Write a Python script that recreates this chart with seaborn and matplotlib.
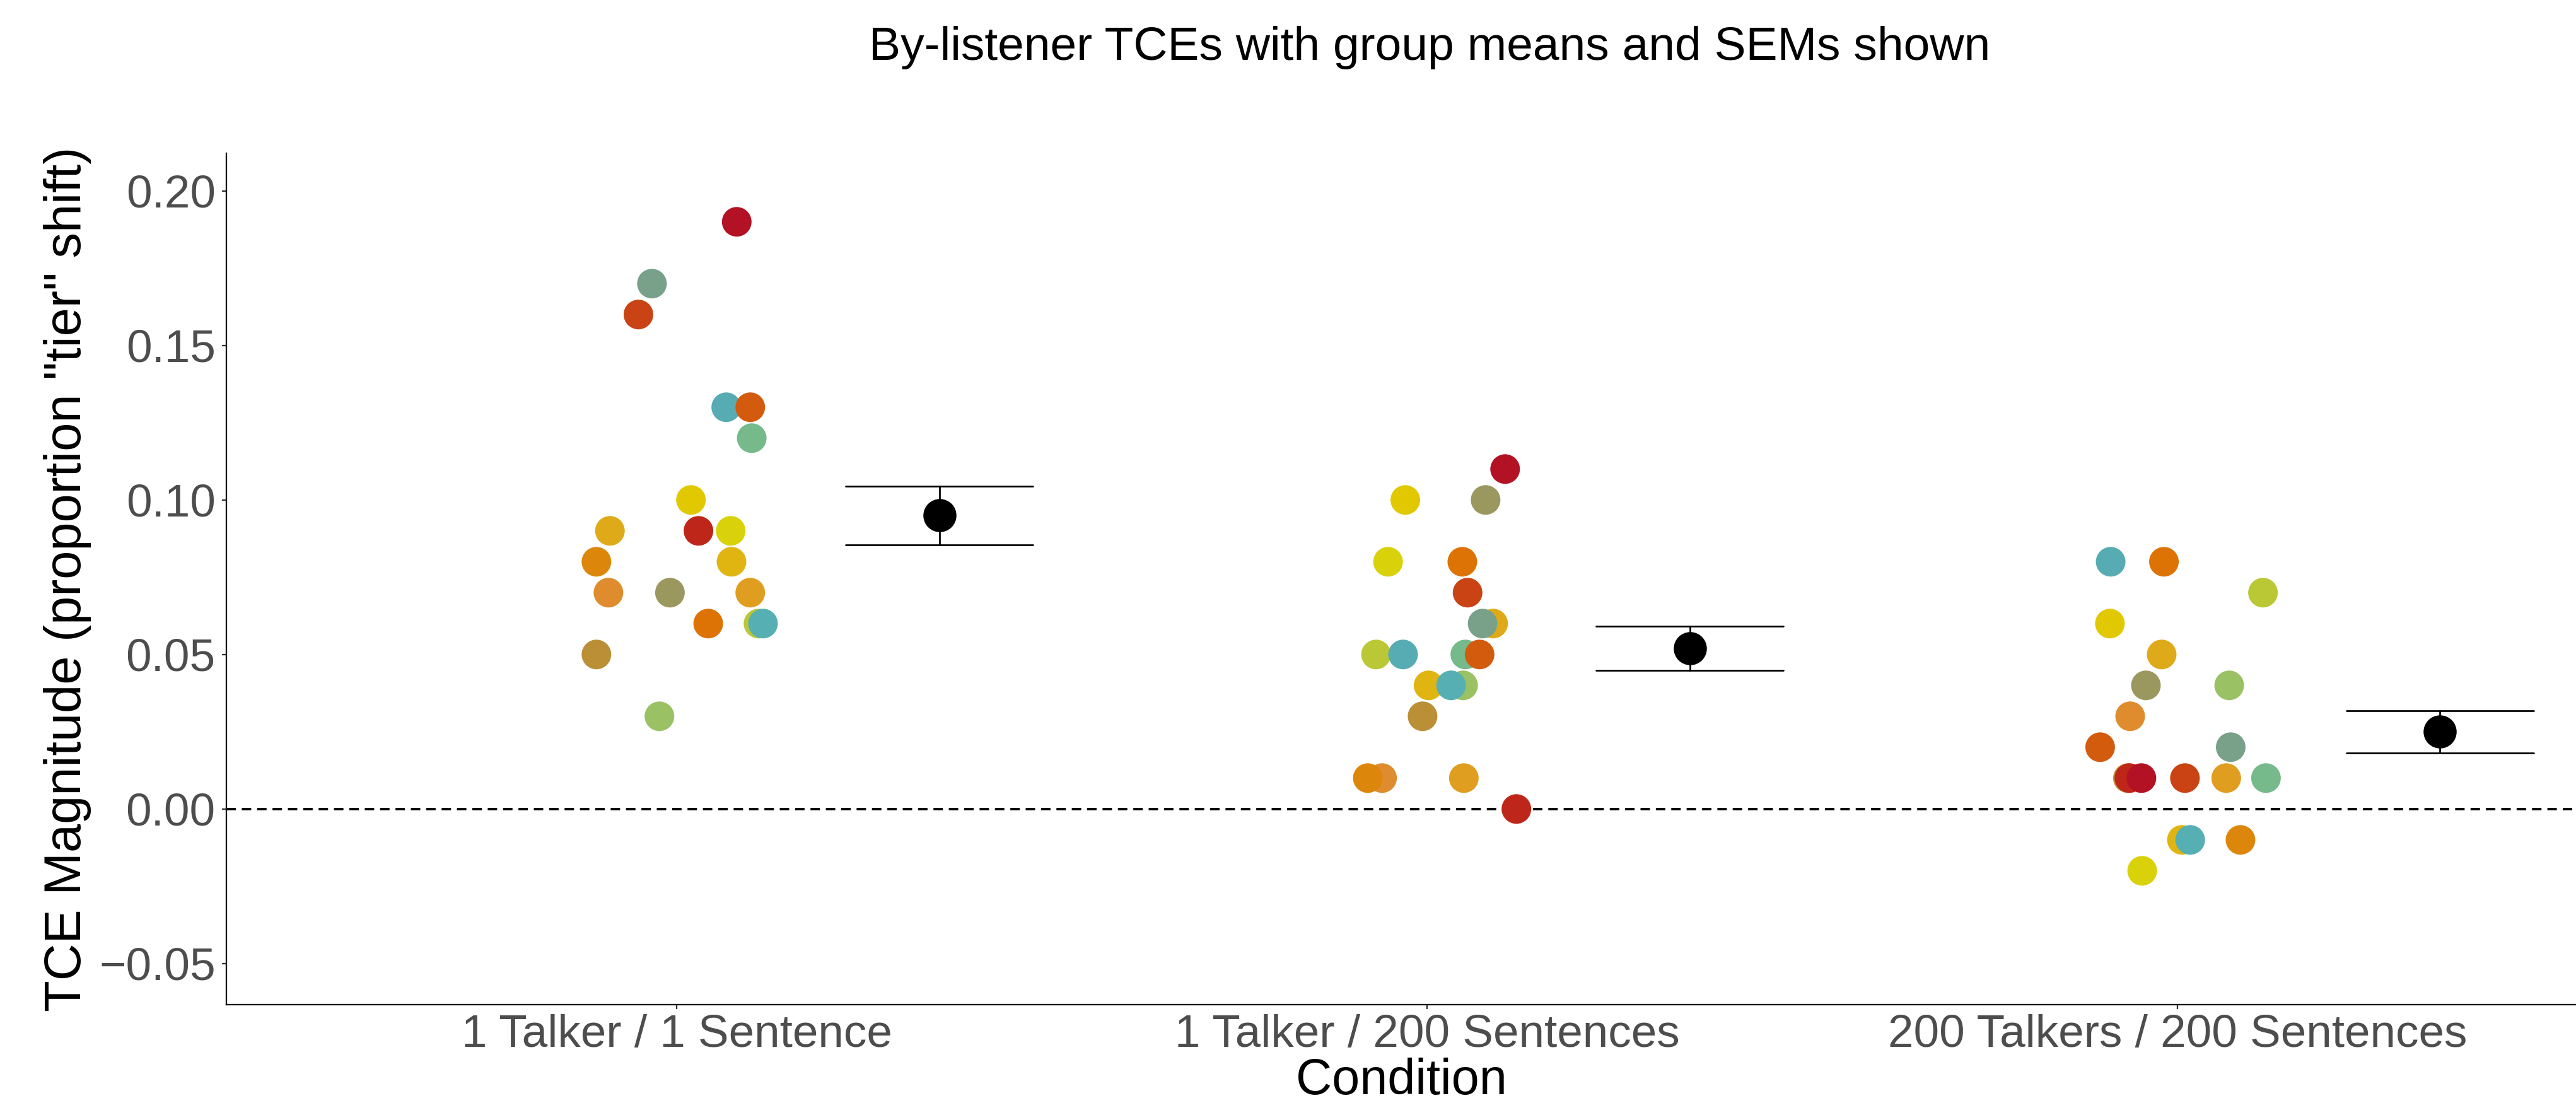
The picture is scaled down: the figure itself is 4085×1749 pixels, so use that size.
import pandas as pd
import seaborn as sns
import matplotlib.pyplot as plt

conditions = ['1 Talker / 1 Sentence', '1 Talker / 200 Sentences', '200 Talkers / 200 Sentences']

listeners = [f'L{i:02d}' for i in range(1, 21)]
listener_colors = ['#76B98A', '#BBC835', '#9AC163', '#E1B511', '#DFAA19',
                   '#BB8F36', '#DE8C2E', '#57ACB3', '#56AFB3', '#79A18A',
                   '#9A985E', '#E1C800', '#D9D10A', '#E09E20', '#DC870C',
                   '#DD7304', '#D35B0E', '#C94314', '#BE2619', '#B31124']

# TCE per listener, same listener order in every condition
tce_1t1s = [0.12, 0.06, 0.03, 0.08, 0.09, 0.05, 0.07, 0.13, 0.06, 0.17,
            0.07, 0.10, 0.09, 0.07, 0.08, 0.06, 0.13, 0.16, 0.09, 0.19]
tce_1t200s = [0.05, 0.05, 0.04, 0.04, 0.06, 0.03, 0.01, 0.05, 0.04, 0.06,
              0.10, 0.10, 0.08, 0.01, 0.01, 0.08, 0.05, 0.07, 0.00, 0.11]
tce_200t200s = [0.01, 0.07, 0.04, -0.01, 0.05, 0.01, 0.03, 0.08, -0.01, 0.02,
                0.04, 0.06, -0.02, 0.01, -0.01, 0.08, 0.02, 0.01, 0.01, 0.01]

# horizontal jitter
jit_1t1s = [0.100, 0.109, -0.023, 0.073, -0.089, -0.107, -0.091, 0.066, 0.115, -0.033,
            -0.009, 0.019, 0.072, 0.098, -0.107, 0.042, 0.098, -0.051, 0.029, 0.080]
jit_1t200s = [0.051, -0.068, 0.048, 0.002, 0.088, -0.006, -0.060, -0.032, 0.032, 0.074,
              0.078, -0.029, -0.052, 0.049, -0.079, 0.047, 0.070, 0.054, 0.119, 0.104]
jit_200t200s = [0.118, 0.114, 0.069, 0.006, -0.021, -0.066, -0.063, -0.089, 0.017, 0.071,
                -0.042, -0.090, -0.047, 0.065, 0.084, -0.018, -0.103, 0.010, -0.064, -0.048]

frames = []
for i, (cond, vals, jit) in enumerate(zip(conditions,
                                          [tce_1t1s, tce_1t200s, tce_200t200s],
                                          [jit_1t1s, jit_1t200s, jit_200t200s])):
    frames.append(pd.DataFrame({'listener': listeners, 'condition': cond,
                                'tce': vals, 'jitter': jit, 'code': i}))
df = pd.concat(frames, ignore_index=True)
df['pos'] = df['code'] + df['jitter']
df['mean_pos'] = df['code'] + 0.35

sns.set_style('ticks')
plt.rcParams['font.family'] = ['Liberation Sans', 'DejaVu Sans']

fig = plt.figure(figsize=(4086 / 300, 1749 / 300), dpi=300)
ax = fig.add_axes([0.0879, 0.0892, 0.9121, 0.7719])

ax.axhline(0, color='black', lw=0.9, ls=(0, (4, 2.5)), zorder=1)

sns.scatterplot(data=df, x='pos', y='tce', hue='listener', hue_order=listeners,
                palette=listener_colors, s=127, linewidth=0, legend=False,
                ax=ax, zorder=2)

sns.pointplot(data=df, x='mean_pos', y='tce', native_scale=True, orient='x',
              errorbar='se', capsize=0.25, color='black', linestyle='none',
              markers='o', markersize=12.6, markeredgewidth=0,
              err_kws={'linewidth': 0.65}, ax=ax)

ax.set_xlim(-0.6, 2.532)
ax.set_ylim(-0.0633, 0.2122)
ax.set_xticks([0, 1, 2])
ax.set_xticklabels(conditions)
ax.set_yticks([-0.05, 0.0, 0.05, 0.10, 0.15, 0.20])
ax.set_yticklabels([f'{v:.2f}'.replace('-', '\u2212') for v in [-0.05, 0.0, 0.05, 0.10, 0.15, 0.20]])

sns.despine(ax=ax)
for side in ['left', 'bottom']:
    ax.spines[side].set_linewidth(0.55)
    ax.spines[side].set_color('black')
ax.tick_params(axis='both', length=1.7, width=0.55, color='#333333',
               labelcolor='#4D4D4D', labelsize=17.5)
ax.tick_params(axis='x', pad=2)
ax.tick_params(axis='y', pad=2.5)

ax.set_xlabel('Condition', fontsize=19, labelpad=0.3, color='black')
ax.set_ylabel('TCE Magnitude (proportion "tier" shift)', fontsize=19.5, labelpad=3, color='black')

fig.text(0.5548, 1 - 95 / 1749, 'By-listener TCEs with group means and SEMs shown',
         ha='center', va='baseline', fontsize=18, color='black')

fig.savefig('out.png', dpi=300)
